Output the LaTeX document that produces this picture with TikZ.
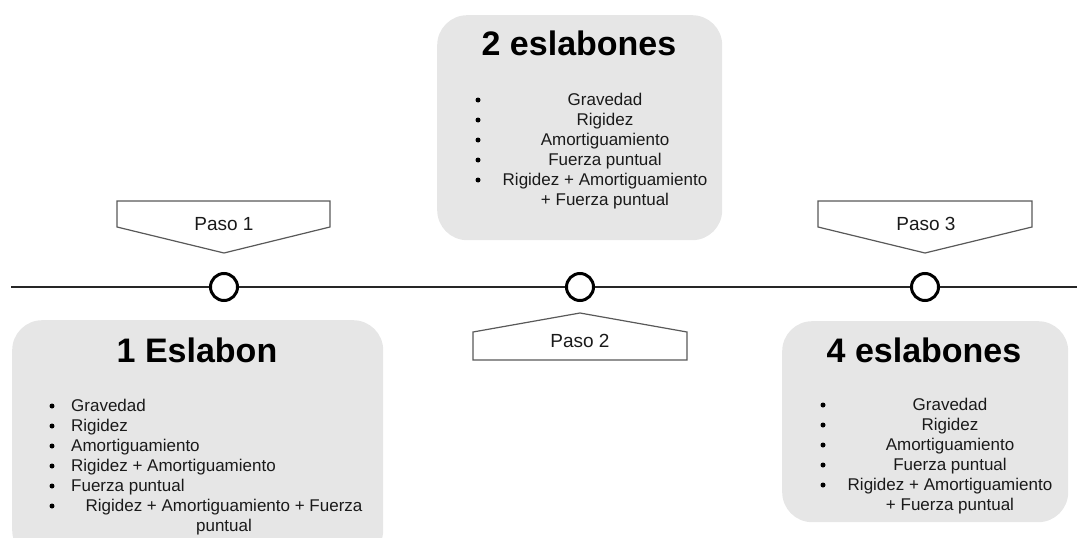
\documentclass[tikz,border=0pt]{standalone}
\usepackage{fontspec}
\setmainfont{Liberation Sans}
\usetikzlibrary{calc,positioning}
\usepackage{xcolor}
\definecolor{gris}{HTML}{E6E6E6}
\definecolor{borde}{HTML}{595959}
\definecolor{texto}{HTML}{1A1A1A}

\tikzset{
	etapa/.style={fill=gris, rounded corners=30pt, inner sep=0pt, anchor=north west},
	hito/.style={circle, draw=black, line width=3pt, fill=white, minimum size=27pt, inner sep=0pt},
	titulo/.style={font=\fontsize{34}{40}\selectfont\bfseries, anchor=base, inner sep=0pt},
	item/.style={font=\fontsize{17}{20}\selectfont, text=texto, inner sep=0pt, anchor=base west},
	itemc/.style={font=\fontsize{17}{20}\selectfont, text=texto, inner sep=0pt, anchor=base, align=center},
	punto/.style={circle, fill=black, minimum size=5pt, inner sep=0pt},
	pasotxt/.style={font=\fontsize{19}{22}\selectfont, text=texto, inner sep=0pt, anchor=base},
	marco/.style={draw=borde, line width=1.2pt, fill=white},
	linea/.style={line width=2.5pt, black!85}
}

\begin{document}
\begin{tikzpicture}[x=1pt,y=-1pt]
			\useasboundingbox (0,0) rectangle (1077,538);
			% cajas
			\node[etapa, minimum width=371, minimum height=240] (caja1) at (12,320) {};
			\node[etapa, minimum width=285, minimum height=225] (caja2) at (437,15) {};
			\node[etapa, minimum width=286, minimum height=201] (caja3) at (782,321) {};
			% linea de tiempo
			\coordinate (ini) at (11,287);
			\coordinate (fin) at (1077,287);
			\node[hito] (h1) at (224,287) {};
			\node[hito] (h2) at (580,287) {};
			\node[hito] (h3) at (925,287) {};
			\draw[linea] (ini) -- (h1) -- (h2) -- (h3) -- (fin);
			% pasos
			\draw[marco] (117,201) -- (330,201) -- (330,227) -- (224,253) -- (117,227) -- cycle;
			\node[pasotxt] (p1) at (224,230) {Paso 1};
			\draw[marco] (473,360) -- (473,332) -- (580,313) -- (687,332) -- (687,360) -- cycle;
			\node[pasotxt] (p2) at (580,347) {Paso 2};
			\draw[marco] (818,201) -- (1032,201) -- (1032,227) -- (925,253) -- (818,227) -- cycle;
			\node[pasotxt] (p3) at (926,230) {Paso 3};
			% 1 eslabon
			\node[titulo] (t1) at (197,362) {1 Eslabon};
			\node[punto] (b11) at (52,406) {};
			\node[item] (i11) at (71,411) {Gravedad};
			\node[punto] (b12) at (52,426) {};
			\node[item] (i12) at (71,431) {Rigidez};
			\node[punto] (b13) at (52,446) {};
			\node[item] (i13) at (71,451) {Amortiguamiento};
			\node[punto] (b14) at (52,466) {};
			\node[item] (i14) at (71,471) {Rigidez + Amortiguamiento};
			\node[punto] (b15) at (52,486) {};
			\node[item] (i15) at (71,491) {Fuerza puntual};
			\node[punto] (b16) at (52,506) {};
			\node[itemc] (i16) at (224,531) {Rigidez + Amortiguamiento + Fuerza\\puntual};
			% 2 eslabones
			\node[titulo] (t2) at (579,55) {2 eslabones};
			\node[punto] (b21) at (478,100) {};
			\node[itemc] (i21) at (605,105) {Gravedad};
			\node[punto] (b22) at (478,120) {};
			\node[itemc] (i22) at (605,125) {Rigidez};
			\node[punto] (b23) at (478,140) {};
			\node[itemc] (i23) at (605,145) {Amortiguamiento};
			\node[punto] (b24) at (478,160) {};
			\node[itemc] (i24) at (605,165) {Fuerza puntual};
			\node[punto] (b25) at (478,180) {};
			\node[itemc] (i25) at (605,205) {Rigidez + Amortiguamiento\\+ Fuerza puntual};
			% 4 eslabones
			\node[titulo] (t3) at (924,362) {4 eslabones};
			\node[punto] (b31) at (823,405) {};
			\node[itemc] (i31) at (950,410) {Gravedad};
			\node[punto] (b32) at (823,425) {};
			\node[itemc] (i32) at (950,430) {Rigidez};
			\node[punto] (b33) at (823,445) {};
			\node[itemc] (i33) at (950,450) {Amortiguamiento};
			\node[punto] (b34) at (823,465) {};
			\node[itemc] (i34) at (950,470) {Fuerza puntual};
			\node[punto] (b35) at (823,485) {};
			\node[itemc] (i35) at (950,510) {Rigidez + Amortiguamiento\\+ Fuerza puntual};
\end{tikzpicture}
\end{document}
